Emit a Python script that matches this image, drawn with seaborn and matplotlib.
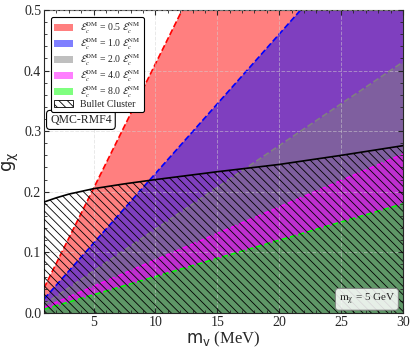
import numpy as np
import matplotlib
matplotlib.use('Agg')
import matplotlib.pyplot as plt
from matplotlib.patches import Patch
import seaborn as sns

# straight bounds, read at the two ends of the x axis
m_edge = [1.0, 30.0]
g_red = [0.041, 1.233]      # E_c^DM = 0.5 E_c^NM
g_blue = [0.023, 0.690]     # 1.0
g_gray = [0.0138, 0.414]    # 2.0
g_magenta = [0.0088, 0.262] # 4.0
g_green = [0.006, 0.180]    # 8.0

# Bullet Cluster bound
m_bc = [1, 2, 3, 5, 7.5, 10, 15, 20, 25, 30]
g_bc = [0.183, 0.190, 0.196, 0.205, 0.213, 0.220, 0.233, 0.245, 0.260, 0.276]

ratios = ['0.5', '1.0', '2.0', '4.0', '8.0']
colors = ['red', 'blue', 'gray', 'magenta', 'lime']

sns.set_style('ticks')
plt.rcParams['font.family'] = ['Liberation Serif', 'DejaVu Sans']
plt.rcParams['mathtext.fontset'] = 'stix'
plt.rcParams['hatch.linewidth'] = 0.6

fig = plt.figure(figsize=(4.15, 3.54), dpi=100)
ax = fig.add_axes([0.106, 0.116, 0.865, 0.856])

for g, c in zip([g_red, g_blue, g_gray, g_magenta, g_green], colors):
    ax.fill_between(m_edge, 0, g, color=c, alpha=0.5, linewidth=0, zorder=1)
    sns.lineplot(x=m_edge, y=g, color=c, linestyle='--', linewidth=1.2, ax=ax, zorder=2)

ax.fill_between(m_bc, 0, g_bc, facecolor='none', edgecolor='black',
                hatch='\\\\\\\\', linewidth=0, zorder=3)
sns.lineplot(x=m_bc, y=g_bc, color='black', linewidth=1.2, ax=ax, zorder=4)

ax.set_xlim(1, 30)
ax.set_ylim(0, 0.5)
ax.set_xticks([5, 10, 15, 20, 25, 30])
ax.set_yticks([0.0, 0.1, 0.2, 0.3, 0.4, 0.5])
ax.minorticks_on()
ax.tick_params(which='both', direction='in', top=True, right=True, labelsize=10, pad=2)
ax.tick_params(which='major', length=3.5)
ax.tick_params(which='minor', length=2)
plt.setp(ax.get_xticklabels() + ax.get_yticklabels(), fontfamily='Liberation Serif')
ax.grid(True, which='major', linestyle='--', color='lightgray', alpha=0.5, linewidth=0.7, zorder=5)
ax.set_axisbelow(False)

ax.set_xlabel(r'$\mathrm{m_v}$ (MeV)', fontsize=12, labelpad=1, math_fontfamily='dejavusans')
ax.set_ylabel(r'$\mathrm{g_\chi}$', fontsize=13, labelpad=2, math_fontfamily='dejavusans')

handles = [Patch(facecolor=c, alpha=0.5, edgecolor='none') for c in colors]
labels = [r'$\mathcal{E}_c^{\rm DM}$ = ' + r + r' $\mathcal{E}_c^{\rm NM}$' for r in ratios]
handles.append(Patch(facecolor='white', edgecolor='black', hatch='\\\\\\\\', linewidth=0.6))
labels.append('Bullet Cluster')
leg = ax.legend(handles, labels, loc='upper left', bbox_to_anchor=(0.005, 0.993),
                fontsize=7, frameon=True, fancybox=True, edgecolor='black',
                framealpha=1, handlelength=2.0, handleheight=0.7, labelspacing=0.0,
                borderpad=0.35, handletextpad=0.7)
leg.get_frame().set_linewidth(0.8)
leg.set_zorder(10)

ax.text(0.017, 0.637, 'QMC-RMF4', transform=ax.transAxes, fontsize=8.5,
        ha='left', va='center', zorder=10,
        bbox=dict(boxstyle='round,pad=0.3', facecolor='white', edgecolor='black', linewidth=0.8))
ax.text(0.978, 0.045, r'$\mathrm{m_\chi}$ = 5 GeV', transform=ax.transAxes, fontsize=8,
        ha='right', va='center', zorder=10,
        bbox=dict(boxstyle='round,pad=0.3', facecolor='white', alpha=0.85, edgecolor='gray', linewidth=0.8))

fig.savefig('out.png', dpi=100)
